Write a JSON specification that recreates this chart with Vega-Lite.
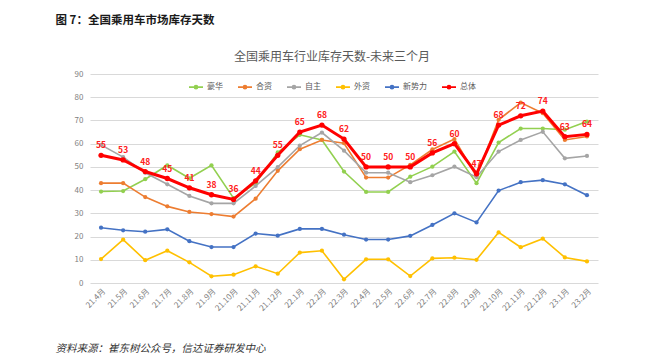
{
  "$schema": "https://vega.github.io/schema/vega-lite/v6.json",
  "width": 508,
  "height": 209,
  "autosize": {"type": "none"},
  "padding": {"left": 90, "top": 74, "right": 62, "bottom": 81},
  "background": "white",
  "config": {"view": {"stroke": null}, "font": "Noto Sans CJK SC"},
  "data": {"values": [
    {"m":"21.4月","s":"豪华","v":39.4},{"m":"21.5月","s":"豪华","v":39.6},{"m":"21.6月","s":"豪华","v":44.7},{"m":"21.7月","s":"豪华","v":50.7},{"m":"21.8月","s":"豪华","v":45.1},{"m":"21.9月","s":"豪华","v":50.7},{"m":"21.10月","s":"豪华","v":36.5},{"m":"21.11月","s":"豪华","v":43},{"m":"21.12月","s":"豪华","v":56.2},{"m":"22.1月","s":"豪华","v":63.8},{"m":"22.2月","s":"豪华","v":61.6},{"m":"22.3月","s":"豪华","v":48},{"m":"22.4月","s":"豪华","v":39.2},{"m":"22.5月","s":"豪华","v":39.2},{"m":"22.6月","s":"豪华","v":45.8},{"m":"22.7月","s":"豪华","v":50.1},{"m":"22.8月","s":"豪华","v":56.6},{"m":"22.9月","s":"豪华","v":43},{"m":"22.10月","s":"豪华","v":60.5},{"m":"22.11月","s":"豪华","v":66.5},{"m":"22.12月","s":"豪华","v":66.5},{"m":"23.1月","s":"豪华","v":66},{"m":"23.2月","s":"豪华","v":69.5},
    {"m":"21.4月","s":"合资","v":43},{"m":"21.5月","s":"合资","v":43},{"m":"21.6月","s":"合资","v":37},{"m":"21.7月","s":"合资","v":33},{"m":"21.8月","s":"合资","v":30.6},{"m":"21.9月","s":"合资","v":29.7},{"m":"21.10月","s":"合资","v":28.6},{"m":"21.11月","s":"合资","v":36.3},{"m":"21.12月","s":"合资","v":48.3},{"m":"22.1月","s":"合资","v":57.6},{"m":"22.2月","s":"合资","v":61.6},{"m":"22.3月","s":"合资","v":60.2},{"m":"22.4月","s":"合资","v":45.4},{"m":"22.5月","s":"合资","v":45.4},{"m":"22.6月","s":"合资","v":50.9},{"m":"22.7月","s":"合资","v":57.5},{"m":"22.8月","s":"合资","v":62},{"m":"22.9月","s":"合资","v":45.8},{"m":"22.10月","s":"合资","v":70.3},{"m":"22.11月","s":"合资","v":77.7},{"m":"22.12月","s":"合资","v":73.1},{"m":"23.1月","s":"合资","v":61.6},{"m":"23.2月","s":"合资","v":63.1},
    {"m":"21.4月","s":"自主","v":59.5},{"m":"21.5月","s":"自主","v":54.2},{"m":"21.6月","s":"自主","v":47.5},{"m":"21.7月","s":"自主","v":42.5},{"m":"21.8月","s":"自主","v":37.5},{"m":"21.9月","s":"自主","v":34.3},{"m":"21.10月","s":"自主","v":34.3},{"m":"21.11月","s":"自主","v":41.8},{"m":"21.12月","s":"自主","v":49.9},{"m":"22.1月","s":"自主","v":59.2},{"m":"22.2月","s":"自主","v":64.8},{"m":"22.3月","s":"自主","v":57},{"m":"22.4月","s":"自主","v":47.5},{"m":"22.5月","s":"自主","v":47.5},{"m":"22.6月","s":"自主","v":43.4},{"m":"22.7月","s":"自主","v":46.4},{"m":"22.8月","s":"自主","v":50.1},{"m":"22.9月","s":"自主","v":45.6},{"m":"22.10月","s":"自主","v":56.6},{"m":"22.11月","s":"自主","v":61.6},{"m":"22.12月","s":"自主","v":65.1},{"m":"23.1月","s":"自主","v":53.7},{"m":"23.2月","s":"自主","v":54.7},
    {"m":"21.4月","s":"外资","v":10.3},{"m":"21.5月","s":"外资","v":18.7},{"m":"21.6月","s":"外资","v":9.8},{"m":"21.7月","s":"外资","v":13.9},{"m":"21.8月","s":"外资","v":8.9},{"m":"21.9月","s":"外资","v":2.9},{"m":"21.10月","s":"外资","v":3.6},{"m":"21.11月","s":"外资","v":7.2},{"m":"21.12月","s":"外资","v":4},{"m":"22.1月","s":"外资","v":13.1},{"m":"22.2月","s":"外资","v":13.9},{"m":"22.3月","s":"外资","v":1.6},{"m":"22.4月","s":"外资","v":10.2},{"m":"22.5月","s":"外资","v":10.2},{"m":"22.6月","s":"外资","v":3},{"m":"22.7月","s":"外资","v":10.6},{"m":"22.8月","s":"外资","v":10.9},{"m":"22.9月","s":"外资","v":10},{"m":"22.10月","s":"外资","v":21.8},{"m":"22.11月","s":"外资","v":15.4},{"m":"22.12月","s":"外资","v":19.1},{"m":"23.1月","s":"外资","v":11},{"m":"23.2月","s":"外资","v":9.3},
    {"m":"21.4月","s":"新势力","v":23.8},{"m":"21.5月","s":"新势力","v":22.7},{"m":"21.6月","s":"新势力","v":22.1},{"m":"21.7月","s":"新势力","v":23.1},{"m":"21.8月","s":"新势力","v":18},{"m":"21.9月","s":"新势力","v":15.5},{"m":"21.10月","s":"新势力","v":15.5},{"m":"21.11月","s":"新势力","v":21.3},{"m":"21.12月","s":"新势力","v":20.4},{"m":"22.1月","s":"新势力","v":23.3},{"m":"22.2月","s":"新势力","v":23.3},{"m":"22.3月","s":"新势力","v":20.8},{"m":"22.4月","s":"新势力","v":18.7},{"m":"22.5月","s":"新势力","v":18.7},{"m":"22.6月","s":"新势力","v":20.3},{"m":"22.7月","s":"新势力","v":25},{"m":"22.8月","s":"新势力","v":30},{"m":"22.9月","s":"新势力","v":26.1},{"m":"22.10月","s":"新势力","v":39.8},{"m":"22.11月","s":"新势力","v":43.4},{"m":"22.12月","s":"新势力","v":44.3},{"m":"23.1月","s":"新势力","v":42.5},{"m":"23.2月","s":"新势力","v":37.8},
    {"m":"21.4月","s":"总体","v":55},{"m":"21.5月","s":"总体","v":53},{"m":"21.6月","s":"总体","v":48},{"m":"21.7月","s":"总体","v":45},{"m":"21.8月","s":"总体","v":41},{"m":"21.9月","s":"总体","v":38},{"m":"21.10月","s":"总体","v":36},{"m":"21.11月","s":"总体","v":44},{"m":"21.12月","s":"总体","v":55},{"m":"22.1月","s":"总体","v":65},{"m":"22.2月","s":"总体","v":68},{"m":"22.3月","s":"总体","v":62},{"m":"22.4月","s":"总体","v":50},{"m":"22.5月","s":"总体","v":50},{"m":"22.6月","s":"总体","v":50},{"m":"22.7月","s":"总体","v":56},{"m":"22.8月","s":"总体","v":60},{"m":"22.9月","s":"总体","v":47},{"m":"22.10月","s":"总体","v":68},{"m":"22.11月","s":"总体","v":72},{"m":"22.12月","s":"总体","v":74},{"m":"23.1月","s":"总体","v":63},{"m":"23.2月","s":"总体","v":64}
  ]},
  "encoding": {
    "x": {
      "field": "m", "type": "ordinal", "sort": null,
      "scale": {"type": "point", "padding": 0.5},
      "axis": {
        "title": "资料来源：崔东树公众号，信达证券研发中心",
        "titleX": -35, "titleY": 65, "titleAlign": "left", "titleBaseline": "middle",
        "titleFontSize": 10.5, "titleFontStyle": "italic", "titleFontWeight": "normal", "titleColor": "#333333",
        "labelAngle": -45, "labelFontSize": 8, "labelColor": "#808080", "labelPadding": 4,
        "domain": false, "ticks": false, "grid": false
      }
    },
    "y": {
      "field": "v", "type": "quantitative",
      "scale": {"domain": [0, 90], "nice": false},
      "axis": {
        "title": "图 7：全国乘用车市场库存天数",
        "titleAngle": 0, "titleX": -35, "titleY": -54, "titleAlign": "left", "titleBaseline": "middle",
        "titleFontSize": 11.5, "titleFontWeight": "bold", "titleColor": "#1a1a1a",
        "values": [0, 10, 20, 30, 40, 50, 60, 70, 80, 90],
        "labelFontSize": 8, "labelColor": "#808080", "labelPadding": 7,
        "domain": false, "ticks": false, "gridColor": "#d9d9d9", "gridWidth": 1
      }
    }
  },
  "layer": [
    {
      "transform": [{"filter": "datum.s !== '总体'"}],
      "mark": {"type": "line", "strokeWidth": 1.6},
      "encoding": {
        "color": {
          "field": "s", "type": "nominal",
          "scale": {"domain": ["豪华", "合资", "自主", "外资", "新势力", "总体"], "range": ["#92d050", "#ed7d31", "#a5a5a5", "#ffc000", "#4472c4", "#ff0000"]},
          "legend": {
            "orient": "none", "legendX": 98, "legendY": -22, "direction": "horizontal", "columns": 6,
            "title": "全国乘用车行业库存天数-未来三个月", "titleOrient": "top", "titleAnchor": "middle", "titleLimit": 500,
            "titleFontSize": 12, "titleFontWeight": "normal", "titleColor": "#595959", "titlePadding": 15,
            "symbolType": "M-1,0H1M-0.22,0A0.22,0.22,0,1,1,0.22,0A0.22,0.22,0,1,1,-0.22,0",
            "symbolSize": 196, "symbolStrokeWidth": 1.6, "labelFontSize": 8, "labelColor": "#595959",
            "labelOffset": 3, "columnPadding": 11
          }
        }
      }
    },
    {
      "transform": [{"filter": "datum.s !== '总体'"}],
      "mark": {"type": "circle", "size": 18, "opacity": 1},
      "encoding": {"color": {"field": "s", "type": "nominal", "legend": null}}
    },
    {
      "transform": [{"filter": "datum.s === '总体'"}],
      "mark": {"type": "line", "strokeWidth": 3},
      "encoding": {"color": {"field": "s", "type": "nominal", "legend": null}}
    },
    {
      "transform": [{"filter": "datum.s === '总体'"}],
      "mark": {"type": "circle", "size": 28, "opacity": 1},
      "encoding": {"color": {"field": "s", "type": "nominal", "legend": null}}
    },
    {
      "transform": [{"filter": "datum.s === '总体'"}],
      "mark": {"type": "text", "dy": -10, "fontSize": 8.5, "fontWeight": "bold", "color": "#ff2020"},
      "encoding": {"text": {"field": "v", "type": "quantitative"}}
    }
  ]
}
